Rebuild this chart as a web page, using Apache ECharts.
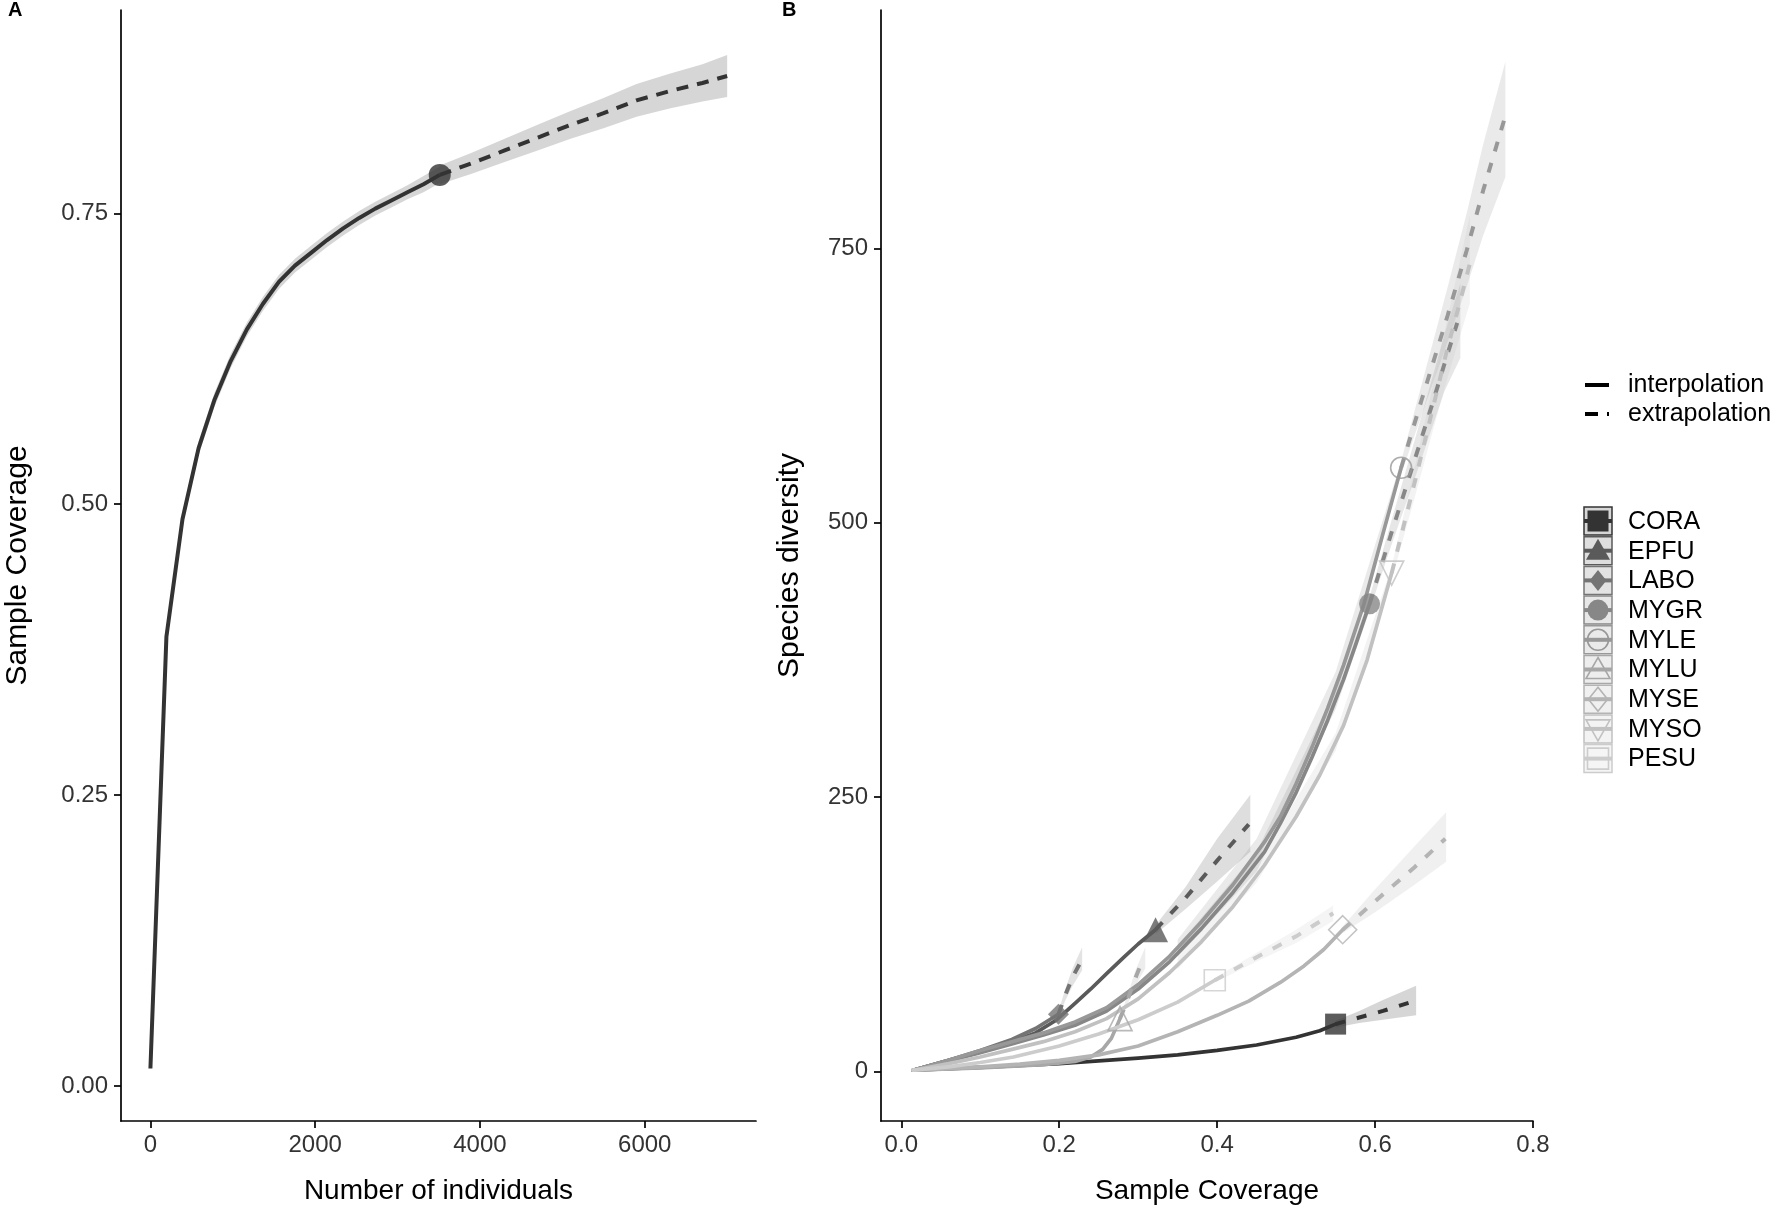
<!DOCTYPE html>
<html><head><meta charset="utf-8">
<script src="https://cdn.jsdelivr.net/npm/echarts@6/dist/echarts.min.js"></script>
<style>html,body{margin:0;padding:0;background:#fff}#c{width:1770px;height:1210px}</style>
</head><body><div id="c"></div>
<script>
// ---------------- Panel A data ----------------
const aInterpN  = [1, 195, 390, 585, 780, 975, 1170, 1365, 1560, 1755, 1950, 2145, 2340, 2535, 2730, 2925, 3120, 3315, 3512];
const aInterpSC = [0.015, 0.386, 0.487, 0.548, 0.590, 0.623, 0.650, 0.672, 0.691, 0.705, 0.716, 0.727, 0.737, 0.746, 0.754, 0.761, 0.768, 0.775, 0.783];
const aInterpLo = [0.014, 0.382, 0.482, 0.542, 0.584, 0.617, 0.644, 0.666, 0.685, 0.699, 0.710, 0.721, 0.731, 0.740, 0.748, 0.755, 0.762, 0.768, 0.776];
const aInterpHi = [0.016, 0.390, 0.492, 0.554, 0.596, 0.629, 0.656, 0.678, 0.697, 0.711, 0.722, 0.733, 0.743, 0.752, 0.760, 0.767, 0.774, 0.782, 0.790];
const aExtrapN  = [3512, 3900, 4300, 4700, 5100, 5500, 5900, 6300, 6700, 7000];
const aExtrapSC = [0.783, 0.793, 0.804, 0.815, 0.826, 0.836, 0.847, 0.855, 0.862, 0.868];
const aExtrapLo = [0.775, 0.784, 0.794, 0.804, 0.814, 0.823, 0.833, 0.840, 0.846, 0.850];
const aExtrapHi = [0.791, 0.802, 0.814, 0.826, 0.838, 0.849, 0.861, 0.870, 0.878, 0.886];
const aXTicks = [0, 2000, 4000, 6000];
const aYTicks = [0, 0.25, 0.5, 0.75];

// ---------------- Panel B data ----------------
const species = ['CORA', 'EPFU', 'LABO', 'MYGR', 'MYLE', 'MYLU', 'MYSE', 'MYSO', 'PESU'];
const lineTypes = ['interpolation', 'extrapolation'];
const bXTicks = [0, 0.2, 0.4, 0.6, 0.8];
const bYTicks = [0, 250, 500, 750];

// [sample coverage, species diversity]; band rows are [coverage, lower, upper]
const coraInterp = [[0.015,1],[0.1,3.5],[0.2,7],[0.3,12],[0.35,15],[0.4,19],[0.45,24],[0.5,31],[0.53,37],[0.55,43]];
const coraExtrap = [[0.55,43],[0.58,49],[0.61,55],[0.645,63]];
const coraBand   = [[0.55,40,46],[0.58,44,55],[0.61,47,65],[0.652,51,78]];

const epfuInterp = [[0.015,1],[0.06,10],[0.1,18],[0.14,27],[0.17,35],[0.197,47],[0.22,62],[0.24,75],[0.26,89],[0.282,104],[0.30,116],[0.322,129]];
const epfuExtrap = [[0.322,129],[0.36,158],[0.40,192],[0.44,225]];
const epfuBand   = [[0.322,125,133],[0.36,148,168],[0.40,173,212],[0.442,200,252]];

const laboInterp = [[0.015,1],[0.06,10],[0.1,19],[0.14,29],[0.17,39],[0.199,52]];
const laboExtrap = [[0.199,52],[0.208,70],[0.217,86],[0.229,102]];
const laboBand   = [[0.199,50,54],[0.208,65,76],[0.217,78,94],[0.229,92,113]];

const mygrInterp = [[0.015,1],[0.06,9.5],[0.1,17],[0.14,25],[0.18,33],[0.22,42],[0.26,55],[0.30,75],[0.34,100],[0.38,130],[0.42,163],[0.46,200],[0.48,226],[0.50,254],[0.52,286],[0.54,320],[0.56,357],[0.575,388],[0.593,426]];
const mygrExtrap = [[0.593,426],[0.62,489],[0.654,566],[0.672,607],[0.688,645],[0.704,682]];
const mygrBand   = [[0.35,104,114],[0.45,182,200],[0.55,330,348],[0.593,420,432],[0.62,478,500],[0.654,548,585],[0.688,620,672],[0.708,650,718]];

const myleInterp = [[0.015,1],[0.06,10],[0.1,19],[0.14,27],[0.18,35],[0.22,45],[0.26,58],[0.30,79],[0.34,105],[0.38,136],[0.42,170],[0.46,209],[0.48,232],[0.50,262],[0.52,295],[0.54,331],[0.56,370],[0.586,426],[0.61,490],[0.633,550]];
const myleExtrap = [[0.633,550],[0.659,612],[0.692,689],[0.716,748],[0.737,803],[0.7635,867]];
const myleBand   = [[0.35,108,120],[0.45,190,212],[0.55,340,364],[0.633,544,556],[0.659,598,626],[0.692,665,715],[0.716,715,782],[0.737,762,845],[0.765,815,920]];

const myluInterp = [[0.015,1],[0.1,3],[0.18,6],[0.22,9],[0.24,13],[0.255,20],[0.266,30],[0.277,48]];
const myluExtrap = [[0.277,48],[0.286,64],[0.296,84],[0.307,104]];
const myluBand   = [[0.277,46,50],[0.286,60,68],[0.296,77,91],[0.309,94,113]];

const myseInterp = [[0.015,1],[0.1,4],[0.15,6.5],[0.2,10],[0.25,15],[0.3,23],[0.35,36],[0.4,51],[0.44,64],[0.48,81],[0.51,96],[0.535,111],[0.559,129]];
const myseExtrap = [[0.559,129],[0.6,155],[0.65,186],[0.689,212]];
const myseBand   = [[0.559,126,132],[0.6,145,166],[0.65,170,205],[0.69,191,236]];

const mysoInterp = [[0.015,1],[0.06,7],[0.1,13],[0.14,20],[0.18,27],[0.22,36],[0.26,48],[0.30,66],[0.34,90],[0.38,118],[0.42,150],[0.46,188],[0.50,232],[0.53,270],[0.56,315],[0.59,375],[0.621,454]];
const mysoExtrap = [[0.621,454],[0.651,539],[0.671,598],[0.691,657],[0.706,697],[0.72,736]];
const mysoBand   = [[0.35,93,103],[0.45,172,188],[0.55,292,308],[0.621,448,460],[0.651,525,553],[0.671,578,618],[0.691,630,684],[0.72,700,780]];

const pesuInterp = [[0.015,1],[0.06,4],[0.1,8],[0.142,13],[0.2,23],[0.25,34],[0.3,47],[0.35,63],[0.397,83]];
const pesuExtrap = [[0.397,83],[0.45,104],[0.5,123],[0.547,144]];
const pesuBand   = [[0.397,81,85],[0.45,100,108],[0.5,117,129],[0.547,137,151]];

// ---------------- styles ----------------
const speciesColors = ['#333333','#5A5A5A','#747474','#878787','#989898','#A7A7A7','#B4B4B4','#C1C1C1','#CCCCCC'];
const speciesShape  = ['square','triangle','diamond','circle','circle','triangle','diamond','down','square'];
const speciesFilled = [true, true, true, true, false, false, false, false, false];
const speciesSize   = [21, 25, 21, 21, 21, 24, 28, 24, 21];
const interps = [coraInterp, epfuInterp, laboInterp, mygrInterp, myleInterp, myluInterp, myseInterp, mysoInterp, pesuInterp];
const extraps = [coraExtrap, epfuExtrap, laboExtrap, mygrExtrap, myleExtrap, myluExtrap, myseExtrap, mysoExtrap, pesuExtrap];
const bands   = [coraBand, epfuBand, laboBand, mygrBand, myleBand, myluBand, myseBand, mysoBand, pesuBand];

const FONT = '"Liberation Sans", Arial, Helvetica, sans-serif';
const DASH = [10, 12];
const TICK_COLOR = '#333333';

function hexA(hex, a) {
  const n = parseInt(hex.slice(1), 16);
  return `rgba(${(n>>16)&255},${(n>>8)&255},${n&255},${a})`;
}

function bandSeries(xi, yi, band, color, alpha) {
  return {
    type: 'custom', xAxisIndex: xi, yAxisIndex: yi, silent: true, z: 1,
    clip: true,
    data: [[band[0][0], band[0][1]]],
    renderItem: (params, api) => {
      const top = band.map(d => api.coord([d[0], d[2]]));
      const bot = band.map(d => api.coord([d[0], d[1]])).reverse();
      return { type: 'polygon', shape: { points: top.concat(bot) }, style: { fill: hexA(color, alpha) } };
    }
  };
}

function symbolFor(shape) {
  if (shape === 'square') return 'rect';
  if (shape === 'down') return 'triangle';
  return shape;
}

const series = [];
// Panel A
series.push(bandSeries(0, 0, aInterpN.map((n,i)=>[n, aInterpLo[i], aInterpHi[i]]).concat(aExtrapN.map((n,i)=>[n, aExtrapLo[i], aExtrapHi[i]])), '#333333', 0.2));
series.push({ type:'line', xAxisIndex:0, yAxisIndex:0, showSymbol:false, silent:true, z:2,
  data: aInterpN.map((n,i)=>[n, aInterpSC[i]]), lineStyle:{color:'#333333', width:4, cap:'butt', join:'round'} });
series.push({ type:'line', xAxisIndex:0, yAxisIndex:0, showSymbol:false, silent:true, z:2,
  data: aExtrapN.map((n,i)=>[n, aExtrapSC[i]]), lineStyle:{color:'#333333', width:4, type:[12,9], cap:'butt'} });
series.push({ type:'scatter', xAxisIndex:0, yAxisIndex:0, silent:true, z:3, symbol:'circle', symbolSize:22,
  data: [[aInterpN[aInterpN.length-1], aInterpSC[aInterpSC.length-1]]], itemStyle:{color:'#333333'} });

// Panel B bands
species.forEach((s,i) => series.push(bandSeries(1, 1, bands[i], speciesColors[i], 0.2)));
// Panel B lines
species.forEach((s,i) => {
  series.push({ type:'line', xAxisIndex:1, yAxisIndex:1, showSymbol:false, silent:true, z:2,
    smooth:false, data: interps[i],
    lineStyle:{color:speciesColors[i], width:3.7, cap:'round', join:'round'} });
  series.push({ type:'line', xAxisIndex:1, yAxisIndex:1, showSymbol:false, silent:true, z:2,
    smooth:false, data: extraps[i],
    lineStyle:{color:speciesColors[i], width:4, type:DASH, cap:'butt'} });
});
// Panel B markers (the observed sample: last interpolation point)
species.forEach((s,i) => {
  const last = interps[i][interps[i].length-1];
  series.push({ type:'scatter', xAxisIndex:1, yAxisIndex:1, silent:true, z:4,
    symbol: symbolFor(speciesShape[i]), symbolRotate: speciesShape[i]==='down' ? 180 : 0,
    symbolSize: speciesSize[i], data:[last],
    itemStyle: speciesFilled[i] ? {color:speciesColors[i]} : {color:'rgba(255,255,255,0)', borderColor:speciesColors[i], borderWidth:1.6} });
});

function xAxisCfg(gi, min, max, ticks, name, fmt) {
  return { type:'value', gridIndex:gi, min, max, name, nameLocation:'middle', nameGap:56,
    nameTextStyle:{fontFamily:FONT, fontSize:28, color:'#000'},
    axisLine:{show:true, onZero:false, lineStyle:{color:'#000', width:1.7}},
    axisTick:{show:true, length:7, customValues:ticks, lineStyle:{color:'#000', width:1.7}},
    axisLabel:{customValues:ticks, formatter:fmt, margin:12, fontFamily:FONT, fontSize:24, color:TICK_COLOR},
    splitLine:{show:false} };
}
function yAxisCfg(gi, min, max, ticks, name, fmt, gap) {
  return { type:'value', gridIndex:gi, min, max, name, nameLocation:'middle', nameGap:gap, nameRotate:90,
    nameTextStyle:{fontFamily:FONT, fontSize:30, color:'#000'},
    axisLine:{show:true, onZero:false, lineStyle:{color:'#000', width:1.7}},
    axisTick:{show:true, length:7, customValues:ticks, lineStyle:{color:'#000', width:1.7}},
    axisLabel:{customValues:ticks, formatter:fmt, margin:13, fontFamily:FONT, fontSize:24, color:TICK_COLOR},
    splitLine:{show:false} };
}

// Legend graphics
const graphic = [];
graphic.push({type:'text', left:8, top:0, style:{text:'A', font:'bold 20px '+FONT, fill:'#000'}});
graphic.push({type:'text', left:782, top:0, style:{text:'B', font:'bold 20px '+FONT, fill:'#000'}});
const lgX = 1585, lgTextX = 1628;
graphic.push({type:'line', shape:{x1:lgX, y1:385, x2:lgX+24, y2:385}, style:{stroke:'#000', lineWidth:4}});
graphic.push({type:'text', x:lgTextX, y:385, style:{text:lineTypes[0], font:'25px '+FONT, fill:'#000', verticalAlign:'middle'}});
graphic.push({type:'line', shape:{x1:lgX, y1:414, x2:lgX+13, y2:414}, style:{stroke:'#000', lineWidth:4}});
graphic.push({type:'line', shape:{x1:lgX+22, y1:414, x2:lgX+24, y2:414}, style:{stroke:'#000', lineWidth:4}});
graphic.push({type:'text', x:lgTextX, y:414, style:{text:lineTypes[1], font:'25px '+FONT, fill:'#000', verticalAlign:'middle'}});

function markerGraphic(shape, cx, cy, s, color, filled) {
  const style = filled ? {fill:color} : {fill:'none', stroke:color, lineWidth:1.6};
  const h = s/2;
  if (shape === 'circle') return {type:'circle', shape:{cx, cy, r:h}, style};
  if (shape === 'square') return {type:'rect', shape:{x:cx-h, y:cy-h, width:s, height:s}, style};
  if (shape === 'triangle') return {type:'polygon', shape:{points:[[cx,cy-h],[cx+h,cy+h*0.75],[cx-h,cy+h*0.75]]}, style};
  if (shape === 'down') return {type:'polygon', shape:{points:[[cx,cy+h],[cx+h,cy-h*0.75],[cx-h,cy-h*0.75]]}, style};
  if (shape === 'diamond') return {type:'polygon', shape:{points:[[cx,cy-h],[cx+h*0.8,cy],[cx,cy+h],[cx-h*0.8,cy]]}, style};
}
species.forEach((s,i) => {
  const cy = 521 + i*29.7;
  const c = speciesColors[i];
  graphic.push({type:'rect', shape:{x:lgX-1, y:cy-14, width:28, height:28}, style:{fill:hexA(c,0.2), stroke:c, lineWidth:1.5}});
  graphic.push({type:'line', shape:{x1:lgX-1, y1:cy, x2:lgX+27, y2:cy}, style:{stroke:c, lineWidth:4}});
  graphic.push(markerGraphic(speciesShape[i], lgX+13, cy, Math.min(speciesSize[i], 24), c, speciesFilled[i]));
  graphic.push({type:'text', x:lgTextX, y:cy+1, style:{text:s, font:'25px '+FONT, fill:'#000', verticalAlign:'middle'}});
});

const option = {
  backgroundColor:'#fff',
  animation:false,
  grid:[
    {left:121, top:10, width:635, height:1111},
    {left:881, top:10, width:652, height:1111}
  ],
  xAxis:[
    xAxisCfg(0, -356, 7350, aXTicks, 'Number of individuals', v => String(v)),
    xAxisCfg(1, -0.0257, 0.8, bXTicks, 'Sample Coverage', v => v.toFixed(1))
  ],
  yAxis:[
    yAxisCfg(0, -0.0301, 0.9247, aYTicks, 'Sample Coverage', v => v.toFixed(2), 88),
    yAxisCfg(1, -45.3, 967.2, bYTicks, 'Species diversity', v => String(v), 76)
  ],
  series,
  graphic
};
const chart = echarts.init(document.getElementById('c'), null, {renderer:'canvas', width:1770, height:1210});
chart.setOption(option);
</script></body></html>
